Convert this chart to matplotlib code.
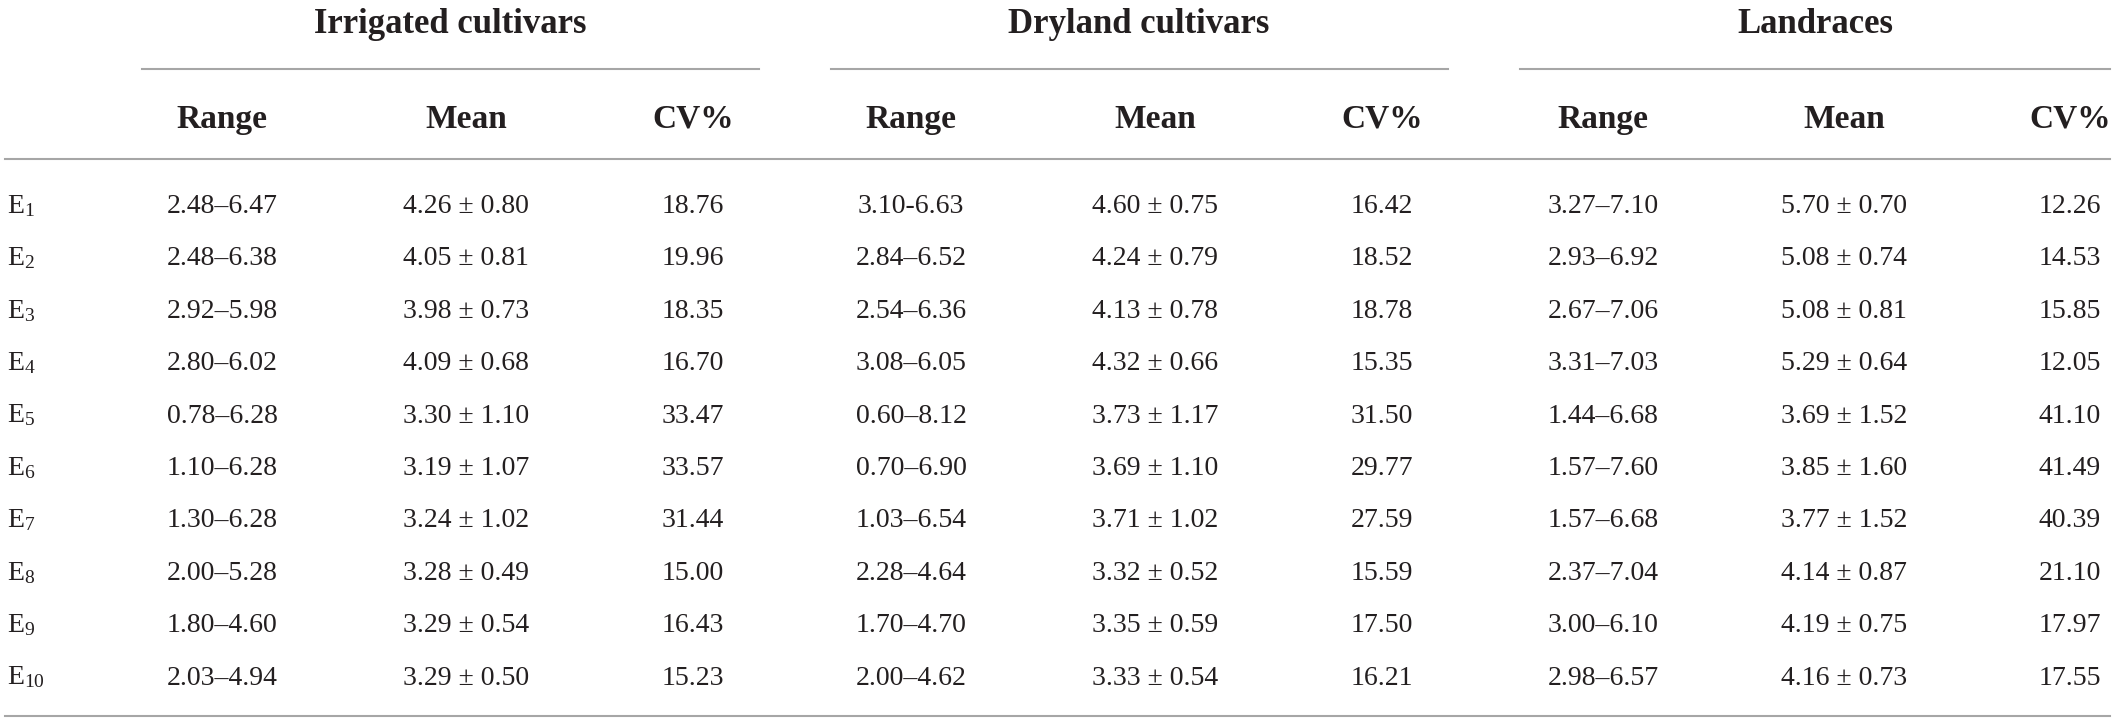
import matplotlib
matplotlib.use("Agg")
import matplotlib.pyplot as plt
from matplotlib.lines import Line2D

plt.rcParams['font.family'] = ['Liberation Serif', 'DejaVu Serif']
plt.rcParams['mathtext.fontset'] = 'custom'
plt.rcParams['mathtext.rm'] = 'Liberation Serif'
plt.rcParams['mathtext.default'] = 'regular'

# ---------------- data ----------------
env_index = [1, 2, 3, 4, 5, 6, 7, 8, 9, 10]
groups = ["Irrigated cultivars", "Dryland cultivars", "Landraces"]
subcols = ["Range", "Mean", "CV%"]

irr_range = ["2.48–6.47", "2.48–6.38", "2.92–5.98", "2.80–6.02", "0.78–6.28",
             "1.10–6.28", "1.30–6.28", "2.00–5.28", "1.80–4.60", "2.03–4.94"]
irr_mean = [4.26, 4.05, 3.98, 4.09, 3.30, 3.19, 3.24, 3.28, 3.29, 3.29]
irr_sd = [0.80, 0.81, 0.73, 0.68, 1.10, 1.07, 1.02, 0.49, 0.54, 0.50]
irr_cv = [18.76, 19.96, 18.35, 16.70, 33.47, 33.57, 31.44, 15.00, 16.43, 15.23]

dry_range = ["3.10-6.63", "2.84–6.52", "2.54–6.36", "3.08–6.05", "0.60–8.12",
             "0.70–6.90", "1.03–6.54", "2.28–4.64", "1.70–4.70", "2.00–4.62"]
dry_mean = [4.60, 4.24, 4.13, 4.32, 3.73, 3.69, 3.71, 3.32, 3.35, 3.33]
dry_sd = [0.75, 0.79, 0.78, 0.66, 1.17, 1.10, 1.02, 0.52, 0.59, 0.54]
dry_cv = [16.42, 18.52, 18.78, 15.35, 31.50, 29.77, 27.59, 15.59, 17.50, 16.21]

land_range = ["3.27–7.10", "2.93–6.92", "2.67–7.06", "3.31–7.03", "1.44–6.68",
              "1.57–7.60", "1.57–6.68", "2.37–7.04", "3.00–6.10", "2.98–6.57"]
land_mean = [5.70, 5.08, 5.08, 5.29, 3.69, 3.85, 3.77, 4.14, 4.19, 4.16]
land_sd = [0.70, 0.74, 0.81, 0.64, 1.52, 1.60, 1.52, 0.87, 0.75, 0.73]
land_cv = [12.26, 14.53, 15.85, 12.05, 41.10, 41.49, 40.39, 21.10, 17.97, 17.55]

# ---------------- layout (pixel units) ----------------
W, H = 2117, 722
fig = plt.figure(figsize=(W / 100, H / 100), dpi=100)
ax = fig.add_axes([0, 0, 1, 1])
ax.set_xlim(0, W)
ax.set_ylim(H, 0)
ax.axis('off')

txt_color = '#231f20'
line_color = '#a6a6a6'
lw = 1.5

group_centers = [450, 1139, 1815]
group_spans = [(142, 759), (831, 1448), (1520, 2110)]
col_x = [[222, 466, 693], [911, 1155, 1382], [1603, 1844, 2070]]

y_group = 33
y_line1 = 69
y_head = 128
y_line2 = 159
y_row0 = 213
row_step = 52.4
y_bottom = 716

# group headers
for g, cx, (x0, x1) in zip(groups, group_centers, group_spans):
    ax.text(cx, y_group, g, ha='center', va='baseline', fontsize=25,
            fontweight='bold', color=txt_color)
    ax.add_line(Line2D([x0, x1], [y_line1, y_line1], color=line_color, lw=lw))

# sub headers
for cols in col_x:
    for name, cx in zip(subcols, cols):
        ax.text(cx, y_head, name, ha='center', va='baseline', fontsize=24,
                fontweight='bold', color=txt_color)

ax.add_line(Line2D([5, 2110], [y_line2, y_line2], color=line_color, lw=lw))
ax.add_line(Line2D([5, 2110], [y_bottom, y_bottom], color=line_color, lw=lw))

group_data = [
    (irr_range, irr_mean, irr_sd, irr_cv),
    (dry_range, dry_mean, dry_sd, dry_cv),
    (land_range, land_mean, land_sd, land_cv),
]

for i, e in enumerate(env_index):
    y = y_row0 + i * row_step
    ax.text(7, y, r'E$_{%d}$' % e, ha='left', va='baseline', fontsize=20,
            color=txt_color)
    for (rng, mn, sd, cv), cols in zip(group_data, col_x):
        ax.text(cols[0], y, rng[i], ha='center', va='baseline', fontsize=20,
                color=txt_color)
        ax.text(cols[1], y, f"{mn[i]:.2f} ± {sd[i]:.2f}", ha='center',
                va='baseline', fontsize=20, color=txt_color)
        ax.text(cols[2], y, f"{cv[i]:.2f}", ha='center', va='baseline',
                fontsize=20, color=txt_color)

fig.savefig('out.png', dpi=100, facecolor='white')
